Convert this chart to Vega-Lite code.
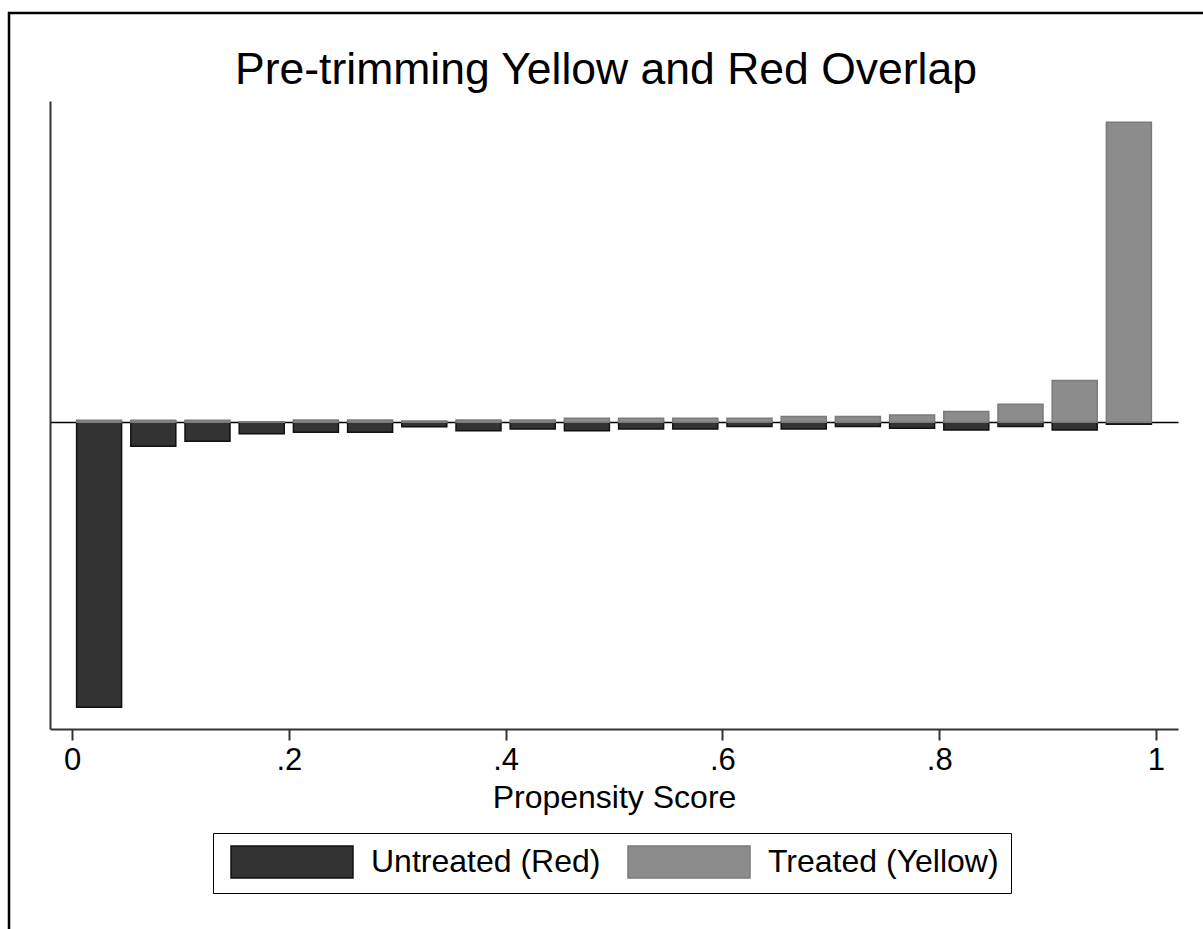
{
  "$schema": "https://vega.github.io/schema/vega-lite/v6.json",
  "width": 1194,
  "height": 916,
  "autosize": {"type": "none"},
  "padding": {"left": 9, "top": 13, "right": 0, "bottom": 0},
  "background": "white",
  "config": {
    "font": "Liberation Sans",
    "view": {"stroke": "#000000", "strokeWidth": 2.5, "strokeDash": [1194, 2110, 916], "fill": "white"}
  },
  "title": {
    "text": "Pre-trimming Yellow and Red Overlap",
    "anchor": "middle",
    "frame": "group",
    "fontSize": 44.5,
    "fontWeight": "normal",
    "color": "#000000",
    "font": "Liberation Sans",
    "baseline": "alphabetic",
    "offset": 0,
    "dy": 115
  },
  "data": {
    "values": [
      {"ps": 0.025, "group": "Untreated (Red)", "density": -28.5},
      {"ps": 0.075, "group": "Untreated (Red)", "density": -2.4},
      {"ps": 0.125, "group": "Untreated (Red)", "density": -1.9},
      {"ps": 0.175, "group": "Untreated (Red)", "density": -1.15},
      {"ps": 0.225, "group": "Untreated (Red)", "density": -1.0},
      {"ps": 0.275, "group": "Untreated (Red)", "density": -1.0},
      {"ps": 0.325, "group": "Untreated (Red)", "density": -0.45},
      {"ps": 0.375, "group": "Untreated (Red)", "density": -0.84},
      {"ps": 0.425, "group": "Untreated (Red)", "density": -0.67},
      {"ps": 0.475, "group": "Untreated (Red)", "density": -0.84},
      {"ps": 0.525, "group": "Untreated (Red)", "density": -0.67},
      {"ps": 0.575, "group": "Untreated (Red)", "density": -0.67},
      {"ps": 0.625, "group": "Untreated (Red)", "density": -0.43},
      {"ps": 0.675, "group": "Untreated (Red)", "density": -0.67},
      {"ps": 0.725, "group": "Untreated (Red)", "density": -0.43},
      {"ps": 0.775, "group": "Untreated (Red)", "density": -0.6},
      {"ps": 0.825, "group": "Untreated (Red)", "density": -0.77},
      {"ps": 0.875, "group": "Untreated (Red)", "density": -0.43},
      {"ps": 0.925, "group": "Untreated (Red)", "density": -0.77},
      {"ps": 0.975, "group": "Untreated (Red)", "density": -0.2},
      {"ps": 0.025, "group": "Treated (Yellow)", "density": 0.2},
      {"ps": 0.075, "group": "Treated (Yellow)", "density": 0.2},
      {"ps": 0.125, "group": "Treated (Yellow)", "density": 0.2},
      {"ps": 0.175, "group": "Treated (Yellow)", "density": 0.05},
      {"ps": 0.225, "group": "Treated (Yellow)", "density": 0.23},
      {"ps": 0.275, "group": "Treated (Yellow)", "density": 0.23},
      {"ps": 0.325, "group": "Treated (Yellow)", "density": 0.13},
      {"ps": 0.375, "group": "Treated (Yellow)", "density": 0.23},
      {"ps": 0.425, "group": "Treated (Yellow)", "density": 0.23},
      {"ps": 0.475, "group": "Treated (Yellow)", "density": 0.4},
      {"ps": 0.525, "group": "Treated (Yellow)", "density": 0.4},
      {"ps": 0.575, "group": "Treated (Yellow)", "density": 0.4},
      {"ps": 0.625, "group": "Treated (Yellow)", "density": 0.4},
      {"ps": 0.675, "group": "Treated (Yellow)", "density": 0.57},
      {"ps": 0.725, "group": "Treated (Yellow)", "density": 0.57},
      {"ps": 0.775, "group": "Treated (Yellow)", "density": 0.73},
      {"ps": 0.825, "group": "Treated (Yellow)", "density": 1.07},
      {"ps": 0.875, "group": "Treated (Yellow)", "density": 1.8},
      {"ps": 0.925, "group": "Treated (Yellow)", "density": 4.17},
      {"ps": 0.975, "group": "Treated (Yellow)", "density": 30.0}
    ]
  },
  "mark": {"type": "bar", "orient": "vertical", "size": 45, "strokeWidth": 1.5},
  "encoding": {
    "x": {
      "field": "ps",
      "type": "quantitative",
      "scale": {"domain": [-0.0203, 1.0203], "range": [41, 1169], "nice": false, "zero": false, "padding": 0},
      "axis": {
        "title": "Propensity Score",
        "values": [0, 0.2, 0.4, 0.6, 0.8, 1],
        "labelExpr": "datum.value == 0 ? '0' : datum.value == 1 ? '1' : replace(format(datum.value, '.1f'), '0.', '.')",
        "offset": -200,
        "grid": false,
        "domainColor": "#333333",
        "domainWidth": 2,
        "tickColor": "#333333",
        "tickWidth": 2,
        "tickSize": 11,
        "labelFlush": false,
        "labelFont": "Liberation Sans",
        "labelFontSize": 31,
        "labelColor": "#000000",
        "labelPadding": 5,
        "titleFont": "Liberation Sans",
        "titleFontSize": 32,
        "titleFontWeight": "normal",
        "titleColor": "#000000",
        "titlePadding": 7
      }
    },
    "y": {
      "field": "density",
      "type": "quantitative",
      "scale": {"domain": [-30.67, 32.13], "range": [716, 88], "nice": false, "zero": false, "padding": 0},
      "axis": {
        "title": null,
        "values": [0],
        "offset": -41,
        "labels": false,
        "ticks": false,
        "grid": true,
        "gridColor": "#000000",
        "gridWidth": 1.5,
        "gridOpacity": 1,
        "domainColor": "#333333",
        "domainWidth": 2
      }
    },
    "fill": {
      "field": "group",
      "type": "nominal",
      "sort": ["Untreated (Red)", "Treated (Yellow)"],
      "scale": {"domain": ["Untreated (Red)", "Treated (Yellow)"], "range": ["#333333", "#8c8c8c"]},
      "legend": {
        "title": null,
        "orient": "none",
        "legendX": 204,
        "legendY": 820,
        "direction": "horizontal",
        "columns": 2,
        "symbolType": "M-3.8125,-1H3.8125V1H-3.8125Z",
        "symbolSize": 1024,
        "symbolStrokeWidth": 1.5,
        "symbolOffset": 50,
        "labelFont": "Liberation Sans",
        "labelFontSize": 32,
        "labelColor": "#000000",
        "labelLimit": 500,
        "labelOffset": 62,
        "columnPadding": 21,
        "padding": 12,
        "strokeColor": "#000000",
        "fillColor": "white"
      }
    },
    "stroke": {
      "field": "group",
      "type": "nominal",
      "sort": ["Untreated (Red)", "Treated (Yellow)"],
      "scale": {"domain": ["Untreated (Red)", "Treated (Yellow)"], "range": ["#111111", "#7a7a7a"]},
      "legend": {
        "title": null,
        "orient": "none",
        "legendX": 204,
        "legendY": 820,
        "direction": "horizontal",
        "columns": 2,
        "symbolType": "M-3.8125,-1H3.8125V1H-3.8125Z",
        "symbolSize": 1024,
        "symbolStrokeWidth": 1.5,
        "symbolOffset": 50,
        "labelFont": "Liberation Sans",
        "labelFontSize": 32,
        "labelColor": "#000000",
        "labelLimit": 500,
        "labelOffset": 62,
        "columnPadding": 21,
        "padding": 12,
        "strokeColor": "#000000",
        "fillColor": "white"
      }
    }
  }
}
